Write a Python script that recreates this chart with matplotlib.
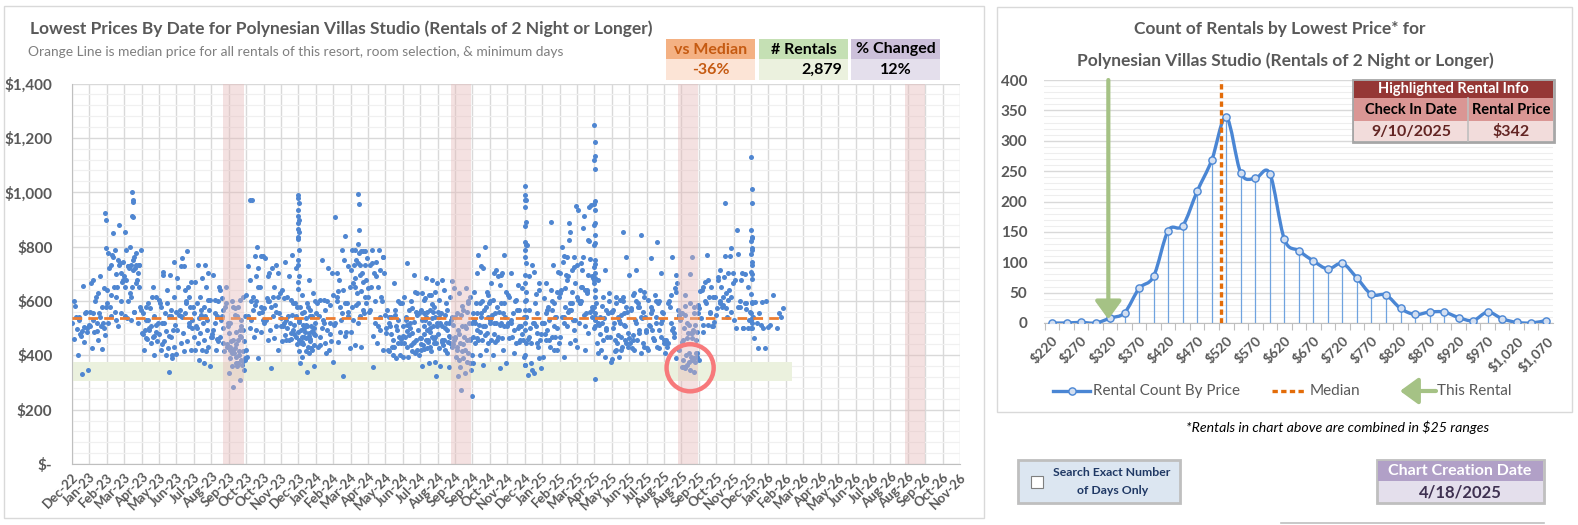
import numpy as np
import matplotlib
matplotlib.use("Agg")
import matplotlib.pyplot as plt
import matplotlib.dates as mdates
from matplotlib.patches import Rectangle, FancyArrowPatch
from matplotlib.path import Path
from matplotlib.patches import PathPatch
from matplotlib.lines import Line2D

plt.rcParams['font.family'] = ['Lato', 'DejaVu Sans']

# ---------------- data: lowest price scatter ----------------
# axis starts here, ticks every 28 days; each cloud list = one 28-day period
axis_start = '2022-12-25'
n_ticks = 52

cloud_2022 = [
    [656, 540, 500, 480, 460, 450, 400, 345, 330, 580, 560, 540, 520, 505, 495, 485, 470, 598, 555, 530, 510, 490],
]
cloud_2023 = [
    [690, 678, 647, 628, 665, 579, 598, 579, 555, 555, 518, 518, 506, 506, 487, 475, 457, 426, 424, 616, 641, 540, 530, 500, 490, 560],
    [751, 733, 702, 788, 776, 733, 849, 678, 616, 579, 555, 653, 592, 506, 543, 671, 700, 720, 740, 760, 690, 650, 620, 600, 560, 520, 880, 770, 745, 530],
    [721, 727, 733, 751, 788, 776, 800, 788, 763, 727, 702, 733, 855, 733, 721, 733, 714, 678, 678, 616, 567, 561, 598, 653, 653, 653, 665, 628, 579, 561, 536, 518, 530, 545],
    [653, 579, 616, 573, 555, 543, 530, 518, 506, 493, 487, 493, 481, 469, 463, 451, 444, 420, 401, 592, 604, 616, 530, 510, 500, 480, 470, 460],
    [696, 708, 616, 592, 579, 567, 555, 560, 543, 518, 493, 490, 480, 469, 451, 432, 426, 420, 401, 401, 405, 340, 696, 745, 641, 592, 543, 520, 510, 470, 440, 390],
    [782, 727, 671, 641, 653, 616, 757, 579, 592, 567, 579, 727, 684, 653, 543, 530, 555, 549, 506, 481, 469, 451, 444, 420, 414, 493, 520, 540, 500, 600],
    [733, 733, 702, 684, 671, 653, 616, 604, 579, 592, 604, 567, 555, 543, 536, 567, 518, 506, 493, 481, 469, 457, 444, 432, 420, 420, 414, 383, 359, 371, 500, 530, 550],
    [610, 604, 592, 641, 696, 567, 543, 518, 530, 555, 579, 598, 469, 444, 420, 432, 469, 493, 414, 451, 506, 543, 518, 653, 653, 480, 500, 460, 440],
    [604, 579, 616, 543, 518, 530, 549, 543, 579, 598, 493, 487, 481, 493, 457, 451, 457, 451, 469, 426, 420, 414, 420, 414, 395, 389, 383, 407, 383, 371, 359, 365, 371, 334, 309, 285, 346, 359, 420, 506, 573, 390, 400, 410, 380, 440, 430, 470],
    [797, 970, 766, 766, 727, 721, 970, 766, 690, 678, 653, 616, 622, 653, 598, 579, 586, 543, 555, 567, 530, 493, 500, 487, 469, 395, 389, 530, 560, 600],
    [653, 690, 702, 721, 757, 733, 702, 628, 616, 610, 616, 579, 573, 586, 598, 555, 543, 530, 506, 493, 506, 463, 457, 420, 352, 518, 560, 600],
    [770, 745, 721, 690, 641, 592, 616, 579, 604, 610, 592, 543, 536, 549, 530, 543, 518, 506, 512, 500, 487, 481, 475, 469, 457, 451, 493, 457, 440, 460, 520, 480],
    [678, 622, 628, 592, 579, 567, 561, 598, 579, 555, 543, 536, 524, 543, 512, 500, 506, 494, 506, 487, 475, 481, 469, 487, 463, 457, 451, 469, 438, 432, 444, 420, 414, 414, 408, 395, 359, 340, 373, 426, 500, 520, 470, 450, 490, 510, 530, 460, 440, 480],
]
cloud_2024 = [
    [598, 604, 586, 604, 592, 721, 751, 702, 567, 543, 518, 530, 555, 493, 469, 451, 444, 432, 420, 500, 377, 408, 438, 480, 520],
    [751, 702, 727, 788, 907, 840, 678, 653, 641, 616, 592, 579, 622, 592, 635, 543, 555, 518, 487, 487, 426, 322, 600, 560, 530, 510, 470, 450],
    [782, 788, 782, 776, 788, 782, 751, 757, 733, 733, 733, 739, 714, 702, 684, 678, 696, 665, 671, 628, 616, 635, 653, 616, 592, 579, 567, 586, 592, 543, 530, 555, 518, 487, 432, 438],
    [788, 788, 763, 745, 733, 714, 702, 702, 653, 653, 598, 518, 647, 493, 358, 420, 444, 567, 616, 598, 549, 506, 740, 760, 690, 560, 540, 470],
    [506, 518, 592, 665, 567, 598, 542, 592, 567, 542, 469, 457, 481, 493, 506, 444, 432, 420, 444, 432, 395, 389, 414, 401, 401, 500, 530, 480, 460, 550],
    [696, 741, 628, 598, 616, 634, 567, 555, 573, 542, 549, 518, 506, 524, 512, 493, 481, 469, 457, 475, 463, 444, 432, 420, 438, 444, 407, 395, 401, 414, 530, 560, 500, 470, 450, 490],
    [622, 604, 634, 622, 628, 677, 683, 665, 567, 555, 579, 561, 567, 536, 530, 542, 518, 530, 506, 493, 506, 487, 506, 469, 457, 463, 469, 457, 444, 432, 438, 444, 426, 420, 414, 422, 377, 371, 361, 560, 540, 520, 500, 480, 460, 450, 440, 590, 610, 322],
    [358, 677, 675, 592, 604, 616, 641, 647, 567, 555, 542, 549, 561, 518, 506, 512, 493, 518, 469, 457, 463, 450, 457, 432, 420, 426, 444, 438, 457, 407, 361, 530, 500, 480, 470, 450, 440, 520, 540],
    [647, 628, 616, 567, 555, 561, 549, 518, 506, 493, 518, 506, 469, 457, 444, 457, 469, 420, 407, 414, 401, 420, 383, 371, 389, 395, 377, 358, 346, 334, 322, 592, 580, 540, 500, 480, 460, 440, 430, 600, 272, 250],
    [720, 702, 634, 730, 634, 800, 770, 592, 598, 592, 579, 592, 555, 567, 555, 542, 555, 518, 506, 512, 518, 506, 493, 481, 487, 469, 475, 457, 444, 457, 444, 420, 401, 371, 365, 463, 620, 540, 530],
    [696, 702, 770, 690, 665, 702, 714, 634, 659, 604, 592, 579, 598, 592, 555, 542, 561, 549, 555, 518, 506, 512, 518, 506, 469, 457, 463, 450, 371, 352, 401, 420, 457, 530, 520, 480],
    [659, 702, 647, 604, 616, 567, 555, 542, 567, 518, 506, 493, 518, 506, 469, 457, 444, 463, 457, 407, 395, 500, 530, 480, 600, 620, 450],
    [627, 690, 641, 518, 542, 444, 371, 352, 334, 328, 389, 346, 364, 506, 469, 457, 708, 806, 481, 444, 518, 592, 567, 665, 733, 604, 555, 500, 480, 520, 460, 430],
]
cloud_2025 = [
    [733, 665, 634, 641, 610, 592, 579, 616, 567, 555, 542, 530, 518, 506, 493, 500, 892, 518, 469, 457, 444, 469, 457, 420, 432, 395, 420, 567, 708, 600, 480, 540],
    [855, 766, 763, 690, 641, 592, 579, 950, 825, 745, 726, 677, 628, 567, 542, 530, 886, 800, 714, 696, 616, 592, 518, 493, 763, 702, 634, 647, 665, 567, 542, 530, 506, 469, 444, 395, 456, 560],
    [825, 739, 690, 641, 604, 947, 763, 683, 628, 592, 953, 913, 733, 696, 653, 579, 555, 518, 753, 867, 677, 634, 598, 542, 506, 935, 822, 714, 690, 641, 592, 561, 549, 432, 481, 653, 567, 420],
    [714, 677, 628, 616, 592, 567, 542, 561, 536, 518, 555, 518, 506, 493, 512, 469, 457, 444, 469, 420, 377, 395, 407, 600, 580, 540, 500, 480],
    [616, 592, 579, 604, 567, 555, 542, 481, 469, 457, 444, 395, 385, 852, 616, 561, 549, 518, 506, 475, 463, 432, 420, 760, 518, 500, 512, 444, 432, 420, 414, 457, 530, 560, 600],
    [641, 622, 616, 579, 567, 542, 530, 493, 481, 456, 444, 714, 696, 843, 628, 634, 592, 573, 536, 518, 487, 493, 475, 432, 456, 444, 407, 420, 542, 579, 426, 560, 600],
    [815, 757, 702, 622, 604, 598, 567, 555, 518, 506, 469, 457, 426, 592, 579, 561, 542, 512, 493, 463, 444, 432, 555, 518, 457, 420, 426, 493, 530, 600],
    [647, 592, 542, 493, 444, 696, 579, 530, 481, 432, 567, 518, 456, 634, 598, 549, 500, 456, 665, 622, 555, 469, 444, 420, 763, 407, 389],
    [763, 622, 407, 591, 383, 579, 364, 555, 395, 549, 377, 512, 358, 493, 401, 487, 346, 499, 389, 481, 383, 463, 352, 456, 407, 450, 340, 462, 395, 481, 358, 512, 377, 555, 383, 580, 407, 698, 456, 555, 518, 585, 481],
    [555, 512, 506, 769, 638, 653, 671, 616, 677, 640, 616, 591, 573, 561, 487, 524, 512, 536, 506, 600, 550, 616, 653],
    [542, 714, 794, 767, 689, 604, 579, 665, 628, 591, 766, 616, 573, 702, 653, 616, 959, 677, 640, 585, 702, 573, 600, 560, 689],
    [698, 773, 653, 702, 677, 591, 579, 561, 499, 861, 499, 677, 530, 591, 579, 530, 499, 499, 570, 600],
    [597, 597, 601, 555, 542, 499, 518, 505, 511, 462, 428, 428, 530],
]
cloud_2026 = [
    [555, 622, 575, 499, 511, 540],
]

# holiday check-in dates that stack up as vertical columns
spike_dates = ['2023-02-17', '2023-04-02', '2023-12-24', '2024-03-30', '2024-12-23', '2025-04-14', '2025-12-22']
spike_feb23 = [923, 896, 795]
spike_apr23 = [1000, 970, 963, 911, 907]
spike_dec23 = [990, 978, 960, 935, 911, 898, 886, 864, 855, 837, 827, 788, 751, 733, 692, 671, 643]
spike_mar24 = [993, 956, 862, 810]
spike_dec24 = [1023, 990, 972, 972, 947, 892, 874, 818, 806, 788, 763, 739, 696, 665, 634, 598, 567, 542, 518, 493, 444, 401, 364]
spike_apr25 = [1248, 1183, 1135, 1119, 1087, 969, 957, 935, 888, 880, 843, 812, 806, 751, 736, 726, 702, 683, 665, 641, 616, 579, 555, 530, 500, 312]
spike_dec25 = [1131, 1012, 959, 861, 833, 837, 822, 794, 788, 773, 745, 733, 708, 699, 680, 626, 597, 591, 555, 536, 520, 499, 499]

median_price = 536
band_starts = ['2023-08-25', '2024-08-25', '2025-08-25', '2026-08-25']
band_ends = ['2023-09-27', '2024-09-27', '2025-09-27', '2026-09-27']
green_low, green_high = 305, 375
green_end = '2026-02-25'

rental_date = '2025-09-10'
rental_price = 342
vs_median = '-36%'
n_rentals = '2,879'
pct_changed = '12%'

# ---------------- data: histogram ----------------
price_bins = [220, 245, 270, 295, 320, 345, 370, 395, 420, 445, 470, 495, 520, 545, 570, 595, 620, 645,
              670, 695, 720, 745, 770, 795, 820, 845, 870, 895, 920, 945, 970, 995, 1020, 1045, 1070]
rental_counts = [0, 0, 1, 0, 8, 17, 57, 77, 152, 160, 217, 268, 339, 247, 238, 246, 138, 119,
                 102, 89, 98, 74, 47, 46, 24, 14, 18, 18, 9, 4, 18, 7, 1, 0, 4]
check_in_label = '9/10/2025'
creation_date = '4/18/2025'

# ---------------- styling ----------------
W, H = 1578, 525
GREY_TXT = '#595959'
BLUE = '#4A86D4'
ORANGE = '#ED7D31'
DARK_ORANGE = '#E36C09'
GREEN = '#A5C285'


def fx(px):
    return px / W


def fy(py):
    return 1 - py / H


def box(x0, y0, x1, y1, fc, ec='none', lw=0, z=1):
    r = Rectangle((fx(x0), fy(y1)), (x1 - x0) / W, (y1 - y0) / H, transform=fig.transFigure,
                  facecolor=fc, edgecolor=ec, linewidth=lw, zorder=z)
    fig.add_artist(r)


fig = plt.figure(figsize=(W / 100, H / 100), dpi=100)
fig.patch.set_facecolor('white')

# panel frames
box(4, 6, 984, 518, 'white', '#D9D9D9', 1.0, z=0)
box(997, 7, 1572, 412, 'white', '#D9D9D9', 1.0, z=0)

# ================= left scatter =================
axL = fig.add_axes([fx(72), fy(464), 888 / W, (464 - 83.5) / H])
x0 = mdates.date2num(np.datetime64(axis_start))

xs, ys = [], []
periods = cloud_2022 + cloud_2023 + cloud_2024 + cloud_2025 + cloud_2026
golden = 0.6180339887
for k, vals in enumerate(periods):
    for i, v in enumerate(vals):
        # spread the period's rentals over its 28 check-in days
        day = np.floor(((i + 1) * golden % 1.0) * 28)
        xs.append(x0 + 28 * k + day + 0.5)
        ys.append(v)
spikes = [spike_feb23, spike_apr23, spike_dec23, spike_mar24, spike_dec24, spike_apr25, spike_dec25]
for d, vals in zip(spike_dates, spikes):
    dn = mdates.date2num(np.datetime64(d))
    for i, v in enumerate(vals):
        xs.append(dn + (i % 3 - 1) * 0.8)
        ys.append(v)

axL.scatter(xs, ys, s=13, color='#4F86D1', linewidths=0, zorder=3)

# median line over data range
axL.plot([min(xs), max(xs)], [median_price, median_price], color=ORANGE, lw=2.0,
         linestyle=(0, (3.5, 2.2)), zorder=4)

# green band at current-rental price range
axL.fill_between([x0, mdates.date2num(np.datetime64(green_end))], green_low, green_high,
                 color='#EBF1DE', zorder=1, linewidth=0)

# pink september bands
for s, e in zip(band_starts, band_ends):
    axL.axvspan(mdates.date2num(np.datetime64(s)), mdates.date2num(np.datetime64(e)),
                color='#E6B9B8', alpha=0.42, lw=0, zorder=5)

# highlighted rental circle
axL.scatter([mdates.date2num(np.datetime64(rental_date)) + 4], [rental_price + 12], s=1150,
            facecolors='none', edgecolors='#F7797B', linewidths=3.2, zorder=6)

ticks = x0 + 28 * np.arange(n_ticks)
axL.set_xlim(x0, ticks[-1])
axL.set_ylim(0, 1400)
axL.set_xticks(ticks)
axL.xaxis.set_major_formatter(mdates.DateFormatter('%b-%y'))
axL.set_yticks(np.arange(0, 1401, 200))
axL.set_yticks(np.arange(0, 1401, 40), minor=True)
axL.yaxis.set_major_formatter(lambda v, p: '$-' if v == 0 else f'${v:,.0f}')
axL.grid(True, which='major', color='#D9D9D9', lw=1.0, zorder=0)
axL.grid(True, which='minor', axis='y', color='#F0F0F0', lw=0.9, zorder=0)
axL.set_axisbelow(True)
for sp in ['top', 'right']:
    axL.spines[sp].set_visible(False)
for sp in ['left', 'bottom']:
    axL.spines[sp].set_color('#BFBFBF')
axL.tick_params(axis='both', which='both', length=0)
axL.tick_params(axis='y', pad=14, labelsize=11, labelcolor=GREY_TXT)
axL.tick_params(axis='x', pad=5, labelsize=9.5, labelcolor=GREY_TXT)
for lab in axL.get_yticklabels():
    lab.set_fontweight('bold')
for lab in axL.get_xticklabels():
    lab.set_rotation(45)
    lab.set_ha('right')
    lab.set_va('top')
    lab.set_rotation_mode('anchor')
    lab.set_fontweight('bold')

fig.text(fx(30), fy(29), 'Lowest Prices By Date for Polynesian Villas Studio (Rentals of 2 Night or Longer)',
         fontsize=12.5, fontweight='bold', color=GREY_TXT, va='center', ha='left')
fig.text(fx(28), fy(52), 'Orange Line is median price for all rentals of this resort, room selection, & minimum days',
         fontsize=9.9, color='#7F7F7F', va='center', ha='left')

# summary boxes
summary = [
    ('vs Median', vs_median, 666, 755, '#F4B183', '#FCE4D6', '#C55A11', 'center'),
    ('# Rentals', n_rentals, 759, 848, '#C5E0B4', '#EBF1DE', 'black', 'right'),
    ('% Changed', pct_changed, 851, 940, '#CCC0DA', '#E4DFEC', 'black', 'center'),
]
for head, val, a, b, hc, vc, tc, al in summary:
    box(a, 39, b, 59, hc, z=2)
    box(a, 59, b, 80, vc, z=2)
    fig.text(fx((a + b) / 2), fy(49.5), head, fontsize=11.5, fontweight='bold', color=tc,
             ha='center', va='center', zorder=3)
    vx = (a + b) / 2 if al == 'center' else b - 6
    fig.text(fx(vx), fy(70), val, fontsize=11.5, fontweight='bold', color=tc,
             ha=al, va='center', zorder=3)

# ================= right histogram =================
axR = fig.add_axes([fx(1044), fy(323), (1553 - 1044) / W, (323 - 80) / H])
idx = np.arange(len(price_bins))
counts = np.array(rental_counts, dtype=float)


def smooth_path(x, y):
    # cubic bezier through points, excel-like smoothing
    verts = [(x[0], y[0])]
    codes = [Path.MOVETO]
    n = len(x)
    for i in range(n - 1):
        p0 = np.array([x[max(i - 1, 0)], y[max(i - 1, 0)]])
        p1 = np.array([x[i], y[i]])
        p2 = np.array([x[i + 1], y[i + 1]])
        p3 = np.array([x[min(i + 2, n - 1)], y[min(i + 2, n - 1)]])
        c1 = p1 + (p2 - p0) / 6
        c2 = p2 - (p3 - p1) / 6
        verts += [tuple(c1), tuple(c2), tuple(p2)]
        codes += [Path.CURVE4] * 3
    return Path(verts, codes)


axR.vlines(idx, 0, counts, color='#6FA3DF', lw=0.9, zorder=2)
axR.add_patch(PathPatch(smooth_path(idx, counts), facecolor='none', edgecolor=BLUE, lw=2.4,
                        zorder=3, capstyle='round', joinstyle='round'))
axR.plot(idx, counts, linestyle='none', marker='o', markersize=5.2, markerfacecolor='#D3DFF1',
         markeredgecolor=BLUE, markeredgewidth=1.0, zorder=4)


def bin_pos(price):
    # overlay series sit one bin to the left of the category scale
    return (price - price_bins[0]) / 25 - 1


axR.axvline(bin_pos(median_price), color=DARK_ORANGE, lw=2.4, linestyle=(0, (1.6, 1.0)), zorder=5)
axR.annotate('', xy=(bin_pos(rental_price), 6), xytext=(bin_pos(rental_price), 400),
             arrowprops=dict(arrowstyle='-|>,head_width=0.4,head_length=0.55', color=GREEN,
                             lw=3.0, shrinkA=0, shrinkB=0, mutation_scale=20), zorder=5)

axR.set_xlim(-0.55, 34.5)
axR.set_ylim(0, 400)
axR.set_yticks(np.arange(0, 401, 50))
axR.set_yticks(np.arange(0, 401, 10), minor=True)
axR.grid(True, which='major', axis='y', color='#D9D9D9', lw=1.0, zorder=0)
axR.grid(True, which='minor', axis='y', color='#EEEEEE', lw=0.8, zorder=0)
axR.set_axisbelow(True)
axR.set_xticks(idx - 0.5)
axR.set_xticklabels([])
axR.set_xticks(idx[::2], minor=True)
axR.set_xticklabels([f'${p:,}' for p in price_bins[::2]], minor=True)
for sp in ['top', 'right', 'left']:
    axR.spines[sp].set_visible(False)
axR.spines['bottom'].set_color('#BFBFBF')
axR.tick_params(axis='x', which='major', length=5, color='#BFBFBF')
axR.tick_params(axis='x', which='minor', length=0, pad=8, labelsize=10, labelcolor=GREY_TXT)
axR.tick_params(axis='y', which='both', length=0, pad=12, labelsize=11, labelcolor=GREY_TXT)
for lab in axR.get_yticklabels():
    lab.set_fontweight('bold')
for lab in axR.get_xticklabels(minor=True):
    lab.set_rotation(45)
    lab.set_ha('right')
    lab.set_va('top')
    lab.set_rotation_mode('anchor')
    lab.set_fontweight('bold')

fig.text(fx(1280), fy(29), 'Count of Rentals by Lowest Price* for', fontsize=12.5, fontweight='bold',
         color=GREY_TXT, ha='center', va='center')
fig.text(fx(1285), fy(61), 'Polynesian Villas Studio (Rentals of 2 Night or Longer)', fontsize=12.5,
         fontweight='bold', color=GREY_TXT, ha='center', va='center')

# highlighted rental info table
box(1353, 80, 1554, 142, 'white', '#A6A6A6', 2.0, z=6)
box(1354, 81, 1553, 98, '#953735', z=7)
box(1354, 98, 1553, 121, '#DA9694', z=7)
box(1354, 121, 1553, 141, '#F2DCDB', z=7)
fig.add_artist(Line2D([fx(1468), fx(1468)], [fy(98), fy(141)], transform=fig.transFigure,
                      color='#BFBFBF', lw=1.2, zorder=8))
fig.text(fx(1453), fy(89.5), 'Highlighted Rental Info', fontsize=10.5, fontweight='bold', color='white',
         ha='center', va='center', zorder=9)
fig.text(fx(1411), fy(110), 'Check In Date', fontsize=10.5, fontweight='bold', color='black',
         ha='center', va='center', zorder=9)
fig.text(fx(1511), fy(110), 'Rental Price', fontsize=10.5, fontweight='bold', color='black',
         ha='center', va='center', zorder=9)
fig.text(fx(1411), fy(132), check_in_label, fontsize=11.5, fontweight='bold', color='#632523',
         ha='center', va='center', zorder=9)
fig.text(fx(1511), fy(132), f'${rental_price}', fontsize=11.5, fontweight='bold', color='#632523',
         ha='center', va='center', zorder=9)

# legend
ly = fy(391)
fig.add_artist(Line2D([fx(1053), fx(1071.5), fx(1090)], [ly, ly, ly], transform=fig.transFigure,
                      color=BLUE, lw=2.4, marker='o', markevery=[1], markersize=5.2,
                      markerfacecolor='#D3DFF1', markeredgecolor=BLUE))
fig.text(fx(1093), ly, 'Rental Count By Price', fontsize=11, color=GREY_TXT, va='center', ha='left')
fig.add_artist(Line2D([fx(1272), fx(1305)], [ly, ly], transform=fig.transFigure, color=DARK_ORANGE,
                      lw=2.4, linestyle=(0, (1.6, 1.0))))
fig.text(fx(1310), ly, 'Median', fontsize=11, color=GREY_TXT, va='center', ha='left')
fig.add_artist(FancyArrowPatch((fx(1436), ly), (fx(1400), ly), transform=fig.transFigure,
                               arrowstyle='-|>,head_width=0.4,head_length=0.55', mutation_scale=20,
                               color=GREEN, lw=3.0, shrinkA=0, shrinkB=0))
fig.text(fx(1437), ly, 'This Rental', fontsize=11, color=GREY_TXT, va='center', ha='left')

fig.text(fx(1338), fy(427), '*Rentals in chart above are combined in $25 ranges', fontsize=10.2,
         style='italic', color='black', ha='center', va='center')

# checkbox panel
box(1018, 460, 1180, 503, '#DCE6F1', '#BFBFBF', 2.0, z=2)
box(1031, 476, 1043, 488, 'white', '#7F7F7F', 0.8, z=3)
fig.text(fx(1112), fy(473), 'Search Exact Number', fontsize=8.8, fontweight='bold', color='#1F3864',
         ha='center', va='center', zorder=4)
fig.text(fx(1113), fy(491), 'of Days Only', fontsize=8.8, fontweight='bold', color='#1F3864',
         ha='center', va='center', zorder=4)

# creation date panel
box(1377, 460, 1544, 503, '#E4DFEC', '#BFBFBF', 2.0, z=2)
box(1378, 461, 1543, 481, '#B1A0C7', z=3)
fig.text(fx(1460), fy(471), 'Chart Creation Date', fontsize=11.5, fontweight='bold', color='white',
         ha='center', va='center', zorder=4)
fig.text(fx(1460), fy(492), creation_date, fontsize=12, fontweight='bold', color='#3F3151',
         ha='center', va='center', zorder=4)
fig.add_artist(Line2D([fx(1281), fx(1544)], [fy(523), fy(523)], transform=fig.transFigure,
                      color='#BFBFBF', lw=1.2))

fig.savefig('out.png', dpi=100)
